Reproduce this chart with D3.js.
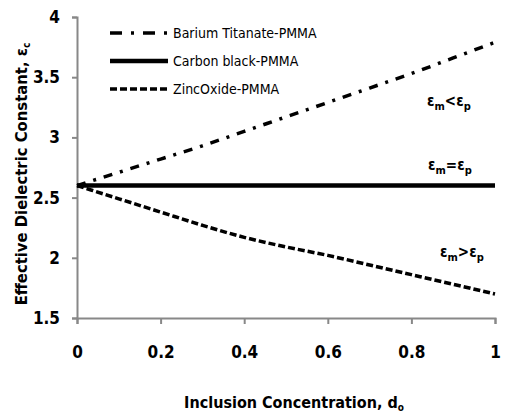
<!DOCTYPE html>
<html>
<head>
<meta charset="utf-8">
<script src="https://cdn.jsdelivr.net/npm/d3@7"></script>
<style>
  body { margin: 0; background: #fff; }
  text { font-family: "DejaVu Sans Condensed", "Liberation Sans Narrow", sans-serif; font-weight: bold; fill: #000; }
</style>
</head>
<body>
<div class="chart-container"></div>
<script>
/********** the Data **********/
const conc = [0, 0.1, 0.2, 0.3, 0.4, 0.5, 0.6, 0.7, 0.8, 0.9, 1];
const bariumTitanate = [2.6, 2.71, 2.82, 2.93, 3.05, 3.17, 3.29, 3.41, 3.53, 3.66, 3.79];
const carbonBlack = [2.6, 2.6, 2.6, 2.6, 2.6, 2.6, 2.6, 2.6, 2.6, 2.6, 2.6];
const zincOxide = [2.6, 2.49, 2.38, 2.27, 2.17, 2.09, 2.02, 1.94, 1.86, 1.78, 1.7];
const seriesNames = ["Barium Titanate-PMMA", "Carbon black-PMMA", "ZincOxide-PMMA"];
const xTicks = [0, 0.2, 0.4, 0.6, 0.8, 1];
const yTicks = [1.5, 2, 2.5, 3, 3.5, 4];

/***** Chart dimensions *****/
let width = 510, height = 415;
let margin = {top: 17, right: 15, bottom: 97, left: 77};

let svg = d3.select(".chart-container")
  .append("svg")
    .attr("width", width)
    .attr("height", height);

/***** X-scale and Y-scale *****/
let xScale = d3.scaleLinear()
  .domain([0, 1])
  .range([margin.left, width - margin.right]);

let yScale = d3.scaleLinear()
  .domain([1.5, 4])
  .range([height - margin.bottom, margin.top]);

/***** axes *****/
let xAxis = d3.axisBottom(xScale)
  .tickValues(xTicks)
  .tickSize(6)
  .tickPadding(22)
  .tickFormat(d => d === 0 || d === 1 ? d : d3.format(".1f")(d));

let yAxis = d3.axisLeft(yScale)
  .tickValues(yTicks)
  .tickSize(5)
  .tickPadding(12)
  .tickFormat(d => d % 1 === 0 ? d : d3.format(".1f")(d));

let gx = svg.append("g")
  .attr("transform", `translate(0, ${yScale(1.5)})`)
  .call(xAxis);

let gy = svg.append("g")
  .attr("transform", `translate(${xScale(0)}, 0)`)
  .call(yAxis);

[gx, gy].forEach(g => {
  g.select(".domain").attr("stroke", "#888").attr("stroke-width", 2);
  g.selectAll(".tick line").attr("stroke", "#888").attr("stroke-width", 2);
  g.selectAll(".tick text")
    .style("font-family", "'DejaVu Sans Condensed', sans-serif")
    .style("font-weight", "bold")
    .style("font-size", "17px")
    .attr("fill", "#000");
});

/***** axis titles *****/
let xt = svg.append("text")
  .attr("x", (xScale(0) + xScale(1)) / 2 + 8)
  .attr("y", 408)
  .attr("text-anchor", "middle")
  .style("font-size", "16px")
  .text("Inclusion Concentration, d");
xt.append("tspan").attr("dy", 3).style("font-size", "10px").text("o");

let yt = svg.append("text")
  .attr("transform", `translate(27, 174) rotate(-90)`)
  .attr("text-anchor", "middle")
  .style("font-size", "16.5px")
  .text("Effective Dielectric Constant, ε");
yt.append("tspan").attr("dy", 3).style("font-size", "10px").text("c");

/***** lines *****/
let styles = [
  {dash: "9,8,3,8", width: 3.5},
  {dash: null, width: 4.5},
  {dash: "7,3", width: 3.5}
];
let allSeries = [bariumTitanate, carbonBlack, zincOxide];

let line = d3.line()
  .x(d => xScale(d[0]))
  .y(d => yScale(d[1]))
  .curve(d3.curveMonotoneX);

allSeries.forEach((vals, i) => {
  svg.append("path")
    .datum(conc.map((c, j) => [c, vals[j]]))
    .attr("fill", "none")
    .attr("stroke", "#000")
    .attr("stroke-width", styles[i].width)
    .attr("stroke-dasharray", styles[i].dash)
    .attr("d", line);
});

/***** legend *****/
let legendDash = ["12,9,3,9", null, "7,3"];
seriesNames.forEach((name, i) => {
  let y = 33 + i * 28;
  svg.append("line")
    .attr("x1", 110).attr("x2", 168)
    .attr("y1", y).attr("y2", y)
    .attr("stroke", "#000")
    .attr("stroke-width", styles[i].width)
    .attr("stroke-dasharray", legendDash[i]);
  svg.append("text")
    .attr("x", 173)
    .attr("y", y + 5)
    .style("font-size", "14px")
    .style("font-weight", "normal")
    .text(name);
});

/***** annotations *****/
function epsLabel(x, y, op) {
  let t = svg.append("text").attr("x", x).attr("y", y).style("font-size", "15px");
  t.append("tspan").text("ε");
  t.append("tspan").attr("dy", 4).style("font-size", "11px").text("m");
  t.append("tspan").attr("dy", -4).text(op + "ε");
  t.append("tspan").attr("dy", 4).style("font-size", "11px").text("p");
}
epsLabel(427, 106, "<");
epsLabel(428, 170, "=");
epsLabel(440, 257, ">");
</script>
</body>
</html>
